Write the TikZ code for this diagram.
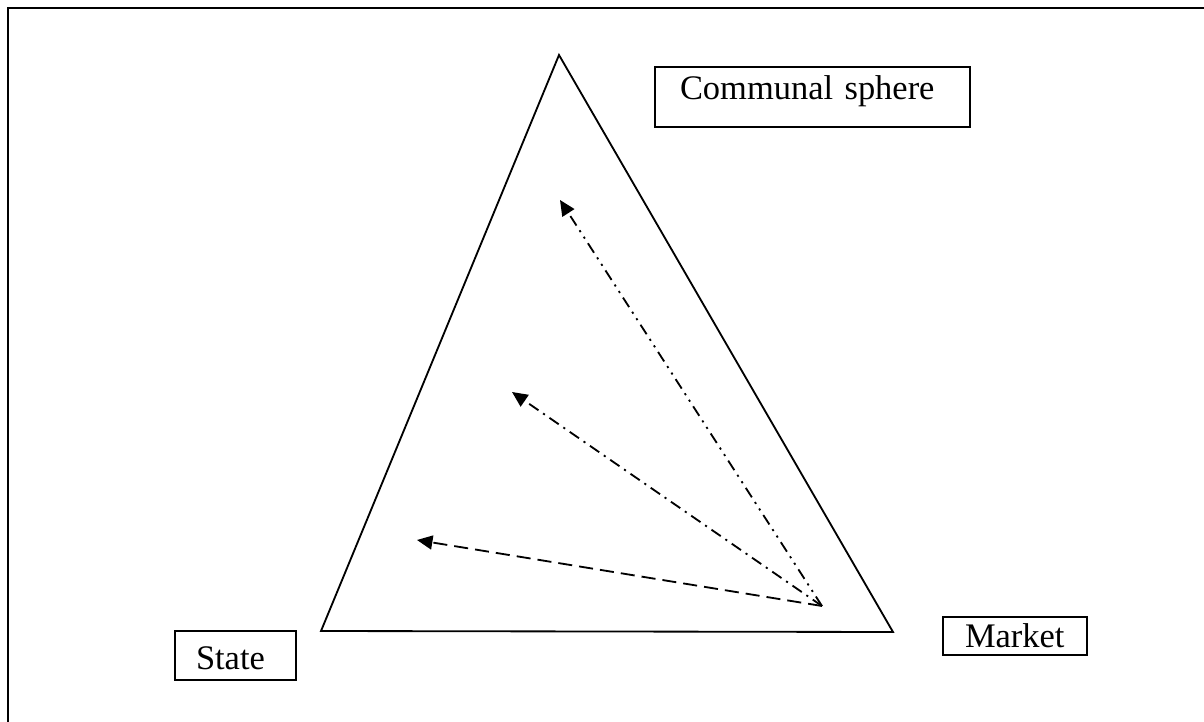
\documentclass[tikz,border=0pt]{standalone}
\usepackage{fontspec}
\setmainfont{Liberation Serif}
\usetikzlibrary{positioning,arrows.meta,calc}

\begin{document}
\begin{tikzpicture}[>=Triangle,x=0.025cm,y=-0.025cm,
  box/.style={draw,line width=1.2pt,inner sep=0pt,align=left,text depth=0pt,
    font=\fontsize{24.5}{28}\selectfont},
  arr/.style={->,line width=1.3pt,>={Triangle[length=11pt,width=10pt]}}]
  \useasboundingbox (0,0) rectangle (1204,722);
  % 外枠
  \draw[line width=2pt] (8,722) -- (8,8) -- (1204,8);
  % 三角形
  \coordinate (apex) at (559,55);
  \coordinate (sl) at (321,631);
  \coordinate (sr) at (893,632);
  \draw[line width=1.3pt] (apex) -- (sr) -- (sl) -- cycle;
  % ラベル
  \node[box,minimum width=315*0.025cm,minimum height=60*0.025cm,
        text width=265*0.025cm,text height=3pt] (comm) at (812.5,97) {Communal sphere};
  \node[box,minimum width=121*0.025cm,minimum height=49*0.025cm,
        text width=79*0.025cm,text height=20.6pt] (state) at (235.5,655.5) {State};
  \node[box,minimum width=144*0.025cm,minimum height=38*0.025cm,
        text width=100*0.025cm,text height=16pt] (market) at (1015,636) {Market};
  % 矢印
  \coordinate (o) at (822,606);
  \coordinate (t1) at (560,200);
  \coordinate (t2) at (512,392);
  \coordinate (t3) at (417,540);
  \draw[arr,dash pattern=on 8pt off 4pt on 1.5pt off 4pt on 1.5pt off 4pt] (o) -- (t1);
  \draw[arr,dash pattern=on 8pt off 4pt on 1.5pt off 4pt] (o) -- (t2);
  \draw[arr,dash pattern=on 10pt off 5pt] (o) -- (t3);
\end{tikzpicture}
\end{document}
